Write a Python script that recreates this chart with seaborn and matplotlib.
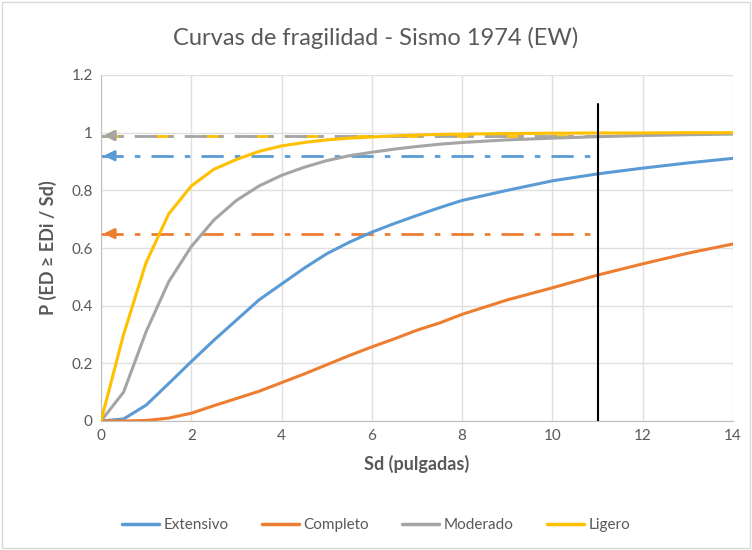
import numpy as np
import pandas as pd
import seaborn as sns
import matplotlib.pyplot as plt
from matplotlib.patches import Rectangle

# Datos
sd = [0, 0.5, 1, 1.5, 2, 2.5, 3, 3.5, 4, 4.5, 5, 5.5, 6, 6.5, 7, 7.5, 8, 9, 10, 11, 12, 13, 14]
extensivo = [0, 0.007, 0.055, 0.13, 0.206, 0.28, 0.35, 0.42, 0.475, 0.53, 0.58, 0.62, 0.655, 0.685,
             0.713, 0.74, 0.765, 0.80, 0.833, 0.857, 0.877, 0.895, 0.911]
completo = [0, 0, 0.002, 0.01, 0.027, 0.053, 0.078, 0.103, 0.133, 0.163, 0.195, 0.227, 0.257, 0.285,
            0.315, 0.34, 0.37, 0.42, 0.462, 0.506, 0.545, 0.582, 0.614]
moderado = [0, 0.10, 0.31, 0.483, 0.605, 0.697, 0.765, 0.815, 0.852, 0.88, 0.903, 0.92, 0.932, 0.943,
            0.952, 0.96, 0.966, 0.975, 0.981, 0.986, 0.99, 0.993, 0.995]
ligero = [0, 0.30, 0.55, 0.718, 0.815, 0.873, 0.907, 0.935, 0.954, 0.966, 0.975, 0.981, 0.985, 0.989,
          0.992, 0.994, 0.995, 0.997, 0.998, 0.999, 0.999, 1.0, 1.0]

series = ['Extensivo', 'Completo', 'Moderado', 'Ligero']
colores = ['#5B9BD5', '#ED7D31', '#A5A5A5', '#FFC000']
niveles = [0.92, 0.65, 0.99, 0.99]  # lineas de referencia punto-raya
sd_limite = 11
tope_vertical = 1.1

df = pd.DataFrame({'Sd': sd * 4,
                   'P': extensivo + completo + moderado + ligero,
                   'Estado': sum([[s] * len(sd) for s in series], [])})

sns.set_style('white')
plt.rcParams['font.family'] = ['Lato', 'DejaVu Sans']

fig = plt.figure(figsize=(7.52, 5.5), dpi=100)
ax = fig.add_axes([101 / 752, 1 - 421 / 550, (733 - 101) / 752, (421 - 75) / 550])

# Lineas de referencia con flecha (amarillo primero, gris encima)
orden = [3, 0, 1, 2]
for i in orden:
    c, nivel = colores[i], niveles[i]
    desfase = 6 if i == 2 else 0
    ax.plot([0, sd_limite], [nivel, nivel], color=c, lw=2, linestyle=(desfase, (8, 4, 2, 4)), zorder=2)
    ax.annotate('', xy=(0, nivel), xytext=(0.35, nivel),
                arrowprops=dict(arrowstyle='-|>,head_length=0.6,head_width=0.3', color=c, lw=2),
                zorder=2)

sns.lineplot(data=df, x='Sd', y='P', hue='Estado', palette=colores, hue_order=series,
             linewidth=2.2, ax=ax, legend=False, zorder=3)

ax.plot([sd_limite, sd_limite], [0, tope_vertical], color='black', lw=1.5, zorder=4)

ax.set_xlim(0, 14)
ax.set_ylim(0, 1.2)
ax.set_xticks(range(0, 15, 2))
ax.set_yticks([0, 0.2, 0.4, 0.6, 0.8, 1.0, 1.2])
ax.set_yticklabels(['0', '0.2', '0.4', '0.6', '0.8', '1', '1.2'])
ax.grid(True, color='#E0E0E0', lw=1)
for lado in ['top', 'right']:
    ax.spines[lado].set_visible(False)
for lado in ['left', 'bottom']:
    ax.spines[lado].set_color('#BFBFBF')
ax.tick_params(colors='#595959', labelsize=11, length=0, pad=6)

ax.set_xlabel('Sd (pulgadas)', fontsize=13, fontweight='bold', color='#595959', labelpad=8)
ax.set_ylabel('P (ED ≥ EDi / Sd)', fontsize=13, fontweight='bold', color='#595959', labelpad=10)
fig.text(0.5, 1 - 38 / 550, 'Curvas de fragilidad - Sismo 1974 (EW)', ha='center', va='center',
         fontsize=17, color='#595959')

# Leyenda inferior
handles = [plt.Line2D([], [], color=c, lw=2.5) for c in colores]
fig.legend(handles, series, loc='center', bbox_to_anchor=(0.5, 1 - 525 / 550), ncol=4,
           frameon=False, fontsize=11, labelcolor='#595959', handlelength=2.4,
           columnspacing=2.2, handletextpad=0.3)

fig.patches.append(Rectangle((0.003, 0.003), 0.994, 0.994, transform=fig.transFigure,
                             fill=False, edgecolor='#D9D9D9', lw=1))

fig.savefig('out.png', dpi=100)
